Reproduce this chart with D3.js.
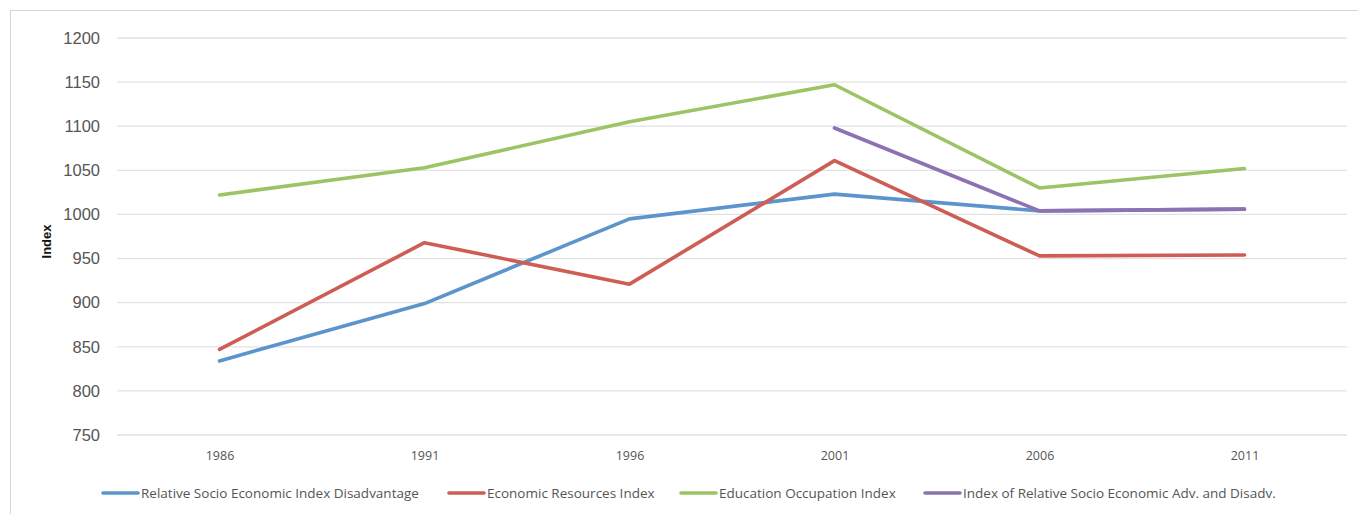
<!DOCTYPE html>
<html>
<head>
<meta charset="utf-8">
<script src="https://cdn.jsdelivr.net/npm/d3@7"></script>
<style>
  html, body { margin: 0; padding: 0; background: #fff; }
  svg { display: block; }
</style>
</head>
<body>
<svg id="chart" width="1358" height="514"></svg>
<script>
// Census years and index values
const years = ["1986", "1991", "1996", "2001", "2006", "2011"];
const relativeDisadvantage = [834, 899, 995, 1023, 1004, 1006];
const economicResources = [847, 968, 921, 1061, 953, 954];
const educationOccupation = [1022, 1053, 1105, 1147, 1030, 1052];
const advantageDisadvantage = [null, null, null, 1098, 1004, 1006];
const yTicks = [750, 800, 850, 900, 950, 1000, 1050, 1100, 1150, 1200];

const seriesNames = [
  "Relative Socio Economic Index Disadvantage",
  "Economic Resources Index",
  "Education Occupation Index",
  "Index of Relative Socio Economic Adv. and Disadv."
];
const seriesColors = ["#5b95cc", "#cd5d55", "#9cc464", "#8d72b1"];
const seriesValues = [relativeDisadvantage, economicResources, educationOccupation, advantageDisadvantage];

const svg = d3.select("#chart");

// outer frame
svg.append("rect")
  .attr("x", 10.5).attr("y", 10.5)
  .attr("width", 1360).attr("height", 520)
  .attr("fill", "none").attr("stroke", "#d4d4e2").attr("stroke-width", 1);

const plotLeft = 117, plotRight = 1347, plotTop = 38, plotBottom = 435;

const x = d3.scalePoint().domain(years).range([plotLeft, plotRight]).padding(0.5);
const y = d3.scaleLinear().domain([750, 1200]).range([plotBottom, plotTop]);

// horizontal gridlines
svg.append("g")
  .selectAll("line")
  .data(yTicks)
  .join("line")
  .attr("x1", plotLeft).attr("x2", plotRight)
  .attr("y1", d => y(d)).attr("y2", d => y(d))
  .attr("stroke", "#e2e2e2").attr("stroke-width", 1.3);

// y axis labels
const yAxis = svg.append("g")
  .attr("transform", `translate(${plotLeft},0)`)
  .call(d3.axisLeft(y).tickValues(yTicks).tickSize(0).tickPadding(17).tickFormat(d3.format("d")));
yAxis.select(".domain").remove();
yAxis.selectAll("text")
  .attr("font-family", "Liberation Sans, Arial, sans-serif")
  .attr("font-size", 16.5)
  .attr("fill", "#555");

// x axis labels
const xAxis = svg.append("g")
  .attr("transform", `translate(0,${plotBottom})`)
  .call(d3.axisBottom(x).tickSize(0).tickPadding(16));
xAxis.select(".domain").remove();
xAxis.selectAll("text")
  .attr("font-family", "Open Sans, sans-serif")
  .attr("font-size", 12.5)
  .attr("fill", "#555");

// y axis title
svg.append("text")
  .attr("transform", `translate(51,${(plotTop + plotBottom) / 2 + 5}) rotate(-90)`)
  .attr("text-anchor", "middle")
  .attr("font-family", "Liberation Sans, Arial, sans-serif")
  .attr("font-weight", "bold")
  .attr("font-size", 13)
  .attr("fill", "#111")
  .text("Index");

// series lines
const line = d3.line()
  .defined(d => d.v != null)
  .x(d => x(d.year))
  .y(d => y(d.v));

seriesValues.forEach((vals, i) => {
  svg.append("path")
    .datum(years.map((yr, j) => ({ year: yr, v: vals[j] })))
    .attr("d", line)
    .attr("fill", "none")
    .attr("stroke", seriesColors[i])
    .attr("stroke-width", 3.6)
    .attr("stroke-linejoin", "round")
    .attr("stroke-linecap", "round");
});

// legend
const legendX = [103, 449, 681, 925];
const legendY = 493;
const legend = svg.append("g");
seriesNames.forEach((name, i) => {
  const g = legend.append("g").attr("transform", `translate(${legendX[i]},${legendY})`);
  g.append("line")
    .attr("x1", 0).attr("x2", 35).attr("y1", 0).attr("y2", 0)
    .attr("stroke", seriesColors[i]).attr("stroke-width", 3.6)
    .attr("stroke-linecap", "round");
  g.append("text")
    .attr("x", 38).attr("y", 5)
    .attr("font-family", "Open Sans, sans-serif")
    .attr("font-size", 13.5)
    .attr("fill", "#555")
    .text(name);
});
</script>
</body>
</html>
